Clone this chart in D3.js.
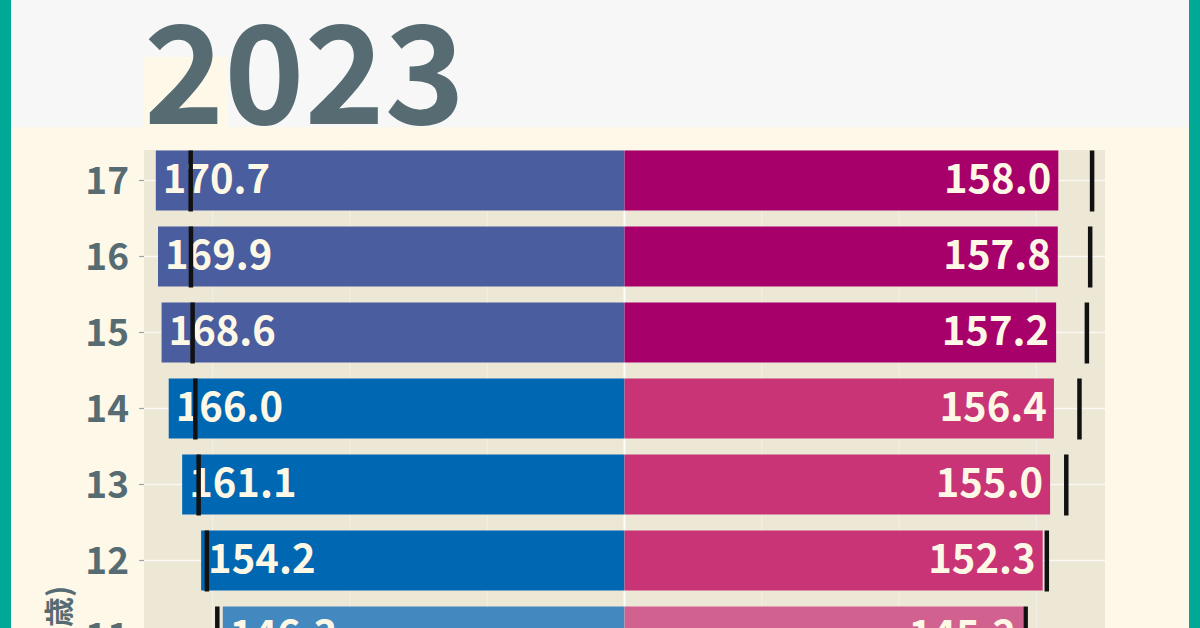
<!DOCTYPE html>
<html>
<head>
<meta charset="utf-8">
<script src="https://cdn.jsdelivr.net/npm/d3@7"></script>
<style>
  html, body { margin: 0; padding: 0; background: #FDF8E7; }
  svg { display: block; }
  text { font-family: "Noto Sans CJK JP", "Noto Sans", sans-serif; }
</style>
</head>
<body>
<svg id="chart" width="1200" height="628"></svg>
<script>
// ---- data ----
const title = "2023";
const ages = ["17","16","15","14","13","12","11","10","9","8","7","6"];
const maleHeights   = [170.7, 169.9, 168.6, 166.0, 161.1, 154.2, 146.3, 140.0, 134.5, 128.9, 123.0, 117.0];
const femaleHeights = [158.0, 157.8, 157.2, 156.4, 155.0, 152.3, 145.2, 141.5, 134.8, 128.5, 122.0, 116.0];
// black reference markers (the other sex's height, mirrored)
const leftMarkers   = [158.0, 157.9, 157.3, 156.3, 155.1, 152.1, 148.3, 141.5, 134.8, 128.5, 122.0, 116.0];
const rightMarkers  = [170.3, 169.6, 168.4, 165.7, 160.9, 153.8, 146.1, 140.0, 134.5, 128.9, 123.0, 117.0];
const stages = ["high","high","high","junior","junior","junior","elem","elem","elem","elem","elem","elem"];
const gridBreaks = [-150, -100, -50, 0, 50, 100, 150];
const axisTitle = "(歳)";

// ---- styles ----
const maleColors   = { high: "#4A5D9E", junior: "#0067B2", elem: "#4488C0" };
const femaleColors = { high: "#A8006A", junior: "#C83476", elem: "#D1628F" };
const labelColor = "#FDF8E6";
const panelColor = "#EDE7D6";
const creamColor = "#FDF8E7";
const topColor = "#F7F7F7";
const teal = "#00A996";
const slate = "#566B72";

const W = 1200, H = 628;
const svg = d3.select("#chart");

// background layers
svg.append("rect").attr("x", 0).attr("y", 0).attr("width", W).attr("height", H).attr("fill", creamColor);
svg.append("rect").attr("x", 0).attr("y", 0).attr("width", W).attr("height", 127).attr("fill", topColor);
svg.append("rect").attr("x", 144).attr("y", 57).attr("width", 84).attr("height", 70).attr("fill", creamColor);

// scales
const x = d3.scaleLinear().domain([-175, 175]).range([144, 1105]);
const y = d3.scaleBand().domain(ages).range([150.5, 150.5 + 76 * ages.length - 16])
  .paddingInner(16 / 76).paddingOuter(0);
const panelTop = 150, panelBottom = y.range()[1] + 8;

// panel
svg.append("rect").attr("x", x.range()[0]).attr("y", panelTop)
  .attr("width", x.range()[1] - x.range()[0]).attr("height", panelBottom - panelTop)
  .attr("fill", panelColor);

// grid
const g = svg.append("g");
g.selectAll("line.hgrid").data(ages).join("line").attr("class", "hgrid")
  .attr("x1", x.range()[0]).attr("x2", x.range()[1])
  .attr("y1", d => y(d) + y.bandwidth() / 2).attr("y2", d => y(d) + y.bandwidth() / 2)
  .attr("stroke", "#FFFFFF").attr("stroke-opacity", 0.75).attr("stroke-width", 1.5);
g.selectAll("line.vgrid").data(gridBreaks).join("line").attr("class", "vgrid")
  .attr("x1", d => x(d)).attr("x2", d => x(d))
  .attr("y1", panelTop).attr("y2", panelBottom)
  .attr("stroke", "#FFFFFF")
  .attr("stroke-opacity", d => d === 0 ? 0.95 : 0.4)
  .attr("stroke-width", d => d === 0 ? 2 : 1);

// y axis
const yAxis = d3.axisLeft(y).tickSize(5).tickPadding(10);
const ya = svg.append("g").attr("transform", `translate(${x.range()[0]},0)`).call(yAxis);
ya.select(".domain").remove();
ya.selectAll(".tick line").attr("stroke", "#9AA5AA").attr("stroke-width", 1.2);
ya.selectAll(".tick text")
  .attr("fill", slate).attr("font-size", 37).attr("font-weight", 700)
  .attr("dy", "0.36em");

// axis title
svg.append("text")
  .attr("transform", `translate(70, 612) rotate(-90)`)
  .attr("text-anchor", "middle")
  .attr("fill", slate).attr("font-size", 30).attr("font-weight", 700)
  .text(axisTitle);

// bars
const rows = ages.map((a, i) => ({
  age: a, m: maleHeights[i], f: femaleHeights[i],
  lm: leftMarkers[i], rm: rightMarkers[i], stage: stages[i]
}));
const bars = svg.append("g");
bars.selectAll("rect.male").data(rows).join("rect").attr("class", "male")
  .attr("x", d => x(-d.m)).attr("width", d => x(0) - x(-d.m))
  .attr("y", d => y(d.age)).attr("height", y.bandwidth())
  .attr("fill", d => maleColors[d.stage]);
bars.selectAll("rect.female").data(rows).join("rect").attr("class", "female")
  .attr("x", x(0)).attr("width", d => x(d.f) - x(0))
  .attr("y", d => y(d.age)).attr("height", y.bandwidth())
  .attr("fill", d => femaleColors[d.stage]);

// labels
bars.selectAll("text.ml").data(rows).join("text").attr("class", "ml")
  .attr("x", d => x(-d.m) + 7).attr("y", d => y(d.age) + y.bandwidth() / 2 + 12)
  .attr("fill", labelColor).attr("font-size", 40).attr("font-weight", 700)
  .text(d => d.m.toFixed(1));
bars.selectAll("text.fl").data(rows).join("text").attr("class", "fl")
  .attr("x", d => x(d.f) - 7).attr("y", d => y(d.age) + y.bandwidth() / 2 + 12)
  .attr("text-anchor", "end")
  .attr("fill", labelColor).attr("font-size", 40).attr("font-weight", 700)
  .text(d => d.f.toFixed(1));

// markers
bars.selectAll("line.lm").data(rows).join("line").attr("class", "lm")
  .attr("x1", d => x(-d.lm)).attr("x2", d => x(-d.lm))
  .attr("y1", d => y(d.age)).attr("y2", d => y(d.age) + y.bandwidth() + 1)
  .attr("stroke", "#111111").attr("stroke-width", 4.5);
bars.selectAll("line.rm").data(rows).join("line").attr("class", "rm")
  .attr("x1", d => x(d.rm)).attr("x2", d => x(d.rm))
  .attr("y1", d => y(d.age)).attr("y2", d => y(d.age) + y.bandwidth() + 1)
  .attr("stroke", "#111111").attr("stroke-width", 4.5);

// title
svg.append("text").attr("x", 144).attr("y", 124)
  .attr("fill", slate).attr("font-size", 136).attr("font-weight", 700)
  .text(title);

// teal side borders
svg.append("rect").attr("x", 0).attr("y", 0).attr("width", 11).attr("height", H).attr("fill", teal);
svg.append("rect").attr("x", 1189).attr("y", 0).attr("width", 11).attr("height", H).attr("fill", teal);
</script>
</body>
</html>
